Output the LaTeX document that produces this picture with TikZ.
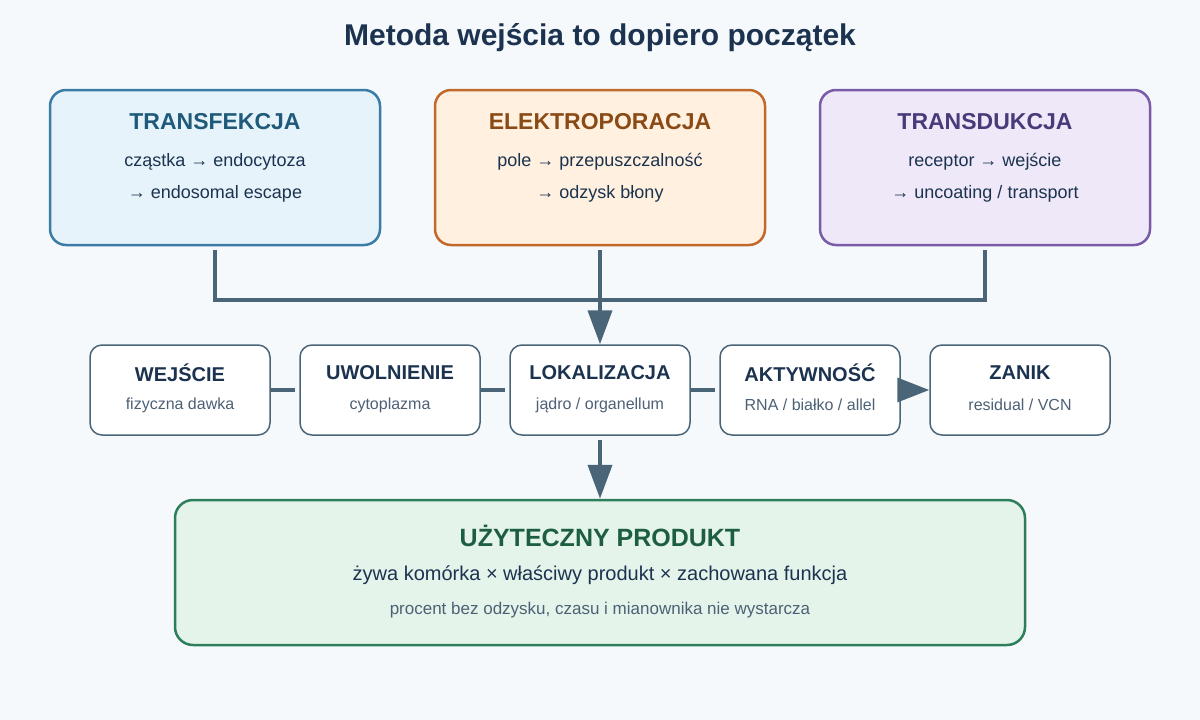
\documentclass[tikz,border=0pt]{standalone}
\usepackage{fontspec}
\setmainfont{Liberation Sans}
\usetikzlibrary{arrows.meta}
\definecolor{bg}{HTML}{F5F9FC}
\definecolor{ink}{HTML}{1C3350}
\definecolor{sub}{HTML}{4D6175}
\definecolor{conn}{HTML}{4A6478}
\begin{document}
\begin{tikzpicture}[x=1pt,y=-1pt,
 big/.style={draw=#1,line width=2.5pt,rounded corners=16pt},
 mid/.style={draw=conn,fill=white,line width=1.5pt,rounded corners=12pt,minimum width=180pt,minimum height=90pt},
 ln/.style={draw=conn,line width=4pt},
 arr/.style={ln,-{Triangle[length=34pt,width=24pt]}}]
\fill[bg] (0,0) rectangle (1200,720);
\useasboundingbox (0,0) rectangle (1200,720);
\node[font=\bfseries\fontsize{30}{30}\selectfont,text=ink] (title) at (600,38) {Metoda wejścia to dopiero początek};
% top boxes
\foreach \n/\x/\s/\f/\t/\h/\a/\b in {
 a/215/3A7CA5/E6F3FA/1F5A7A/TRANSFEKCJA/{cząstka → endocytoza}/{→ endosomal escape},
 b/600/C0692A/FFF0DF/8A4A15/ELEKTROPORACJA/{pole → przepuszczalność}/{→ odzysk błony},
 c/985/7A5BA8/EEE8F8/4A3A7A/TRANSDUKCJA/{receptor → wejście}/{→ uncoating / transport}}{
 \definecolor{s\n}{HTML}{\s}\definecolor{f\n}{HTML}{\f}\definecolor{t\n}{HTML}{\t}
 \draw[big=s\n,fill=f\n] (\x-165,90) rectangle (\x+165,245);
 \node[text=t\n,font=\bfseries\fontsize{23}{23}\selectfont] (\n h) at (\x,122) {\h};
 \node[text=ink,font=\fontsize{18}{18}\selectfont] (\n 1) at (\x,162) {\a};
 \node[text=ink,font=\fontsize{18}{18}\selectfont] (\n 2) at (\x,194) {\b};
 \coordinate (\n o) at (\x,250);
}
\coordinate (jl) at (215,300); \coordinate (jr) at (985,300);
\draw[ln] (ao) -- (jl) -- (jr) -- (co);
% middle boxes
\foreach \n/\x/\h/\s in {w/180/WEJŚCIE/{fizyczna dawka}, u/390/UWOLNIENIE/{cytoplazma}, l/600/LOKALIZACJA/{jądro / organellum}, k/810/AKTYWNOŚĆ/{RNA / białko / allel}, z/1020/ZANIK/{residual / VCN}}{
 \node[mid] (\n) at (\x,390) {};
 \node[text=ink,font=\bfseries\fontsize{20}{20}\selectfont] (\n h) at (\x,373) {\h};
 \node[text=sub,font=\fontsize{16}{16}\selectfont] (\n s) at (\x,405) {\s};
}
\draw[arr] (bo) -- (l.north);
\coordinate (p1) at (295,390); \coordinate (p2) at (505,390); \coordinate (p3) at (715,390);
\draw[ln,line width=3.5pt] (w.east) -- (p1);
\draw[ln,line width=3.5pt] (u.east) -- (p2);
\draw[ln,line width=3.5pt] (l.east) -- (p3);
\draw[ln,line width=3.5pt,-{Triangle[length=32pt,width=24pt]}] (k.east) -- (z.west);
% bottom
\definecolor{sg}{HTML}{2E7D5B}\definecolor{fg}{HTML}{E4F4EA}\definecolor{tg}{HTML}{1E5E40}
\node[draw=sg,fill=fg,line width=2.5pt,rounded corners=18pt,minimum width=850pt,minimum height=145pt] (u2) at (600,572.5) {};
\coordinate (ls) at (600,440);
\draw[arr] (ls) -- (u2.north);
\node[text=tg,font=\bfseries\fontsize{25}{25}\selectfont] (u2h) at (600,536) {UŻYTECZNY PRODUKT};
\node[text=ink,font=\fontsize{20}{20}\selectfont] (u2a) at (600,575) {żywa komórka × właściwy produkt × zachowana funkcja};
\node[text=sub,font=\fontsize{17}{17}\selectfont] (u2b) at (600,610) {procent bez odzysku, czasu i mianownika nie wystarcza};
\end{tikzpicture}
\end{document}
